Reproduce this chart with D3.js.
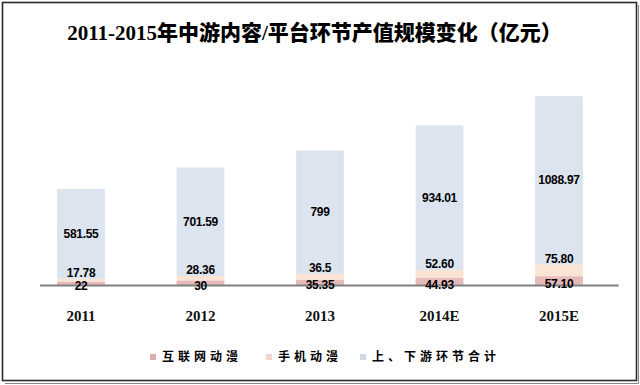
<!DOCTYPE html>
<html>
<head>
<meta charset="utf-8">
<script src="https://cdn.jsdelivr.net/npm/d3@7"></script>
<style>
  body { margin: 0; background: #fff; }
  svg { display: block; }
</style>
</head>
<body>
<div id="chart"></div>
<script>
// values as printed on the chart (strings keep the trailing zeros)
const years = ['2011', '2012', '2013', '2014E', '2015E'];
const internetComic = ['22', '30', '35.35', '44.93', '57.10'];
const mobileComic = ['17.78', '28.36', '36.5', '52.60', '75.80'];
const upDownTotal = ['581.55', '701.59', '799', '934.01', '1088.97'];
const seriesNames = ['互联网动漫', '手机动漫', '上、下游环节合计'];
const yMax = 1400;

const width = 640;
const height = 385;
const colors = ['#e6b9bb', '#fce4d5', '#dce4ef'];

const svg = d3.select('#chart')
  .append('svg')
  .attr('width', width)
  .attr('height', height);

// frame with a little shadow line
svg.append('rect')
  .attr('x', 2.5).attr('y', 2.5)
  .attr('width', 634).attr('height', 378)
  .attr('fill', '#fff')
  .attr('stroke', '#2a2a2a')
  .attr('stroke-width', 1.6);
svg.append('path')
  .attr('d', 'M5,383.5H638.5V5')
  .attr('fill', 'none')
  .attr('stroke', '#888')
  .attr('stroke-width', 1);

// title
svg.append('text')
  .attr('x', 314.5)
  .attr('y', 40)
  .attr('text-anchor', 'middle')
  .style('font-family', '"Liberation Serif", "Noto Sans CJK SC", serif')
  .style('font-weight', '900')
  .style('font-size', '21px')
  .text('2011-2015年中游内容/平台环节产值规模变化（亿元）');

const rows = years.map((y, i) => ({
  year: y,
  a: +internetComic[i],
  b: +mobileComic[i],
  c: +upDownTotal[i],
  labels: [internetComic[i], mobileComic[i], upDownTotal[i]]
}));

const stack = d3.stack().keys(['a', 'b', 'c']);
const stacked = stack(rows);

const x = d3.scaleBand()
  .domain(years)
  .range([21.25, 618.75])
  .paddingInner(0.6)
  .paddingOuter(0.3);

const y = d3.scaleLinear()
  .domain([0, yMax])
  .range([285, 68.6]);

// bars
stacked.forEach((layer, li) => {
  svg.append('g')
    .selectAll('rect')
    .data(layer)
    .enter()
    .append('rect')
    .attr('x', d => x(d.data.year))
    .attr('width', x.bandwidth())
    .attr('y', d => y(d[1]))
    .attr('height', d => y(d[0]) - y(d[1]))
    .attr('fill', colors[li]);
});

// baseline
svg.append('line')
  .attr('x1', 40).attr('x2', x.range()[1])
  .attr('y1', y(0) + 0.5).attr('y2', y(0) + 0.5)
  .attr('stroke', '#808080')
  .attr('stroke-width', 2);

// value labels
const labelY = [
  d => (y(d[0]) + y(d[1])) / 2 + 3,   // small pink piece: sits on the baseline
  d => y(d[1]) - 6,                   // peach piece: label just above it
  d => (y(d[0]) + y(d[1])) / 2        // big piece: centred
];
stacked.forEach((layer, li) => {
  svg.append('g')
    .selectAll('text')
    .data(layer)
    .enter()
    .append('text')
    .attr('x', d => x(d.data.year) + x.bandwidth() / 2)
    .attr('y', labelY[li])
    .attr('dy', '0.35em')
    .attr('text-anchor', 'middle')
    .style('font-family', '"Liberation Sans Narrow", "Liberation Sans", sans-serif')
    .style('font-weight', 'bold')
    .style('font-size', '12px')
    .style('letter-spacing', '-0.3px')
    .text(d => d.data.labels[li]);
});

// category axis
svg.append('g')
  .attr('transform', `translate(0,${y(0)})`)
  .call(d3.axisBottom(x).tickSize(0).tickPadding(25))
  .call(g => g.select('.domain').remove())
  .selectAll('text')
  .attr('fill', '#111')
  .style('font-family', '"Liberation Serif", serif')
  .style('font-weight', 'bold')
  .style('font-size', '15px');

// legend
const legendX = [150, 266, 360];
const legend = svg.append('g');
seriesNames.forEach((name, i) => {
  legend.append('rect')
    .attr('x', legendX[i]).attr('y', 354)
    .attr('width', 6).attr('height', 6)
    .attr('fill', d3.color(colors[i]).darker(0.15));
  legend.append('text')
    .attr('x', legendX[i] + 12)
    .attr('y', 357)
    .attr('dy', '0.35em')
    .style('font-family', '"Noto Sans CJK SC", sans-serif')
    .style('font-weight', 'bold')
    .style('font-size', '12px')
    .style('letter-spacing', '4px')
    .text(name);
});
</script>
</body>
</html>
